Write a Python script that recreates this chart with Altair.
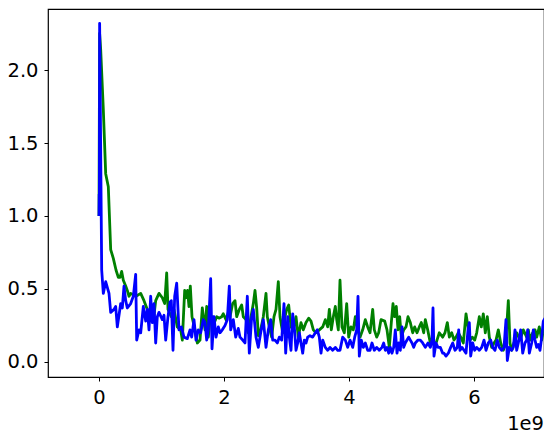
import altair as alt
import pandas as pd

# x values in units of 1e9 (matplotlib offset label "1e9")
green_x = [
    0.000, 0.010, 0.027, 0.069, 0.107, 0.149, 0.187, 0.229, 0.272, 0.309,
    0.336, 0.363, 0.389, 0.427, 0.453, 0.480, 0.507, 0.549, 0.592, 0.667,
    0.720, 0.773, 0.827, 0.880, 0.907, 0.960, 1.013, 1.051, 1.083, 1.104,
    1.157, 1.200, 1.253, 1.307, 1.333, 1.371, 1.392, 1.416, 1.440, 1.461,
    1.488, 1.536, 1.573, 1.616, 1.653, 1.696, 1.723, 1.749, 1.776, 1.819,
    1.856, 1.883, 1.925, 1.963, 1.989, 2.032, 2.069, 2.096, 2.139, 2.176,
    2.203, 2.245, 2.283, 2.309, 2.352, 2.389, 2.416, 2.469, 2.496, 2.523,
    2.549, 2.587, 2.629, 2.672, 2.693, 2.725, 2.763, 2.800, 2.832, 2.869,
    2.896, 2.939, 2.976, 3.003, 3.035, 3.072, 3.109, 3.152, 3.189, 3.232,
    3.269, 3.312, 3.355, 3.392, 3.429, 3.472, 3.525, 3.579, 3.621, 3.659,
    3.685, 3.717, 3.749, 3.781, 3.803, 3.829, 3.856, 3.888, 3.925, 3.963,
    3.995, 4.032, 4.069, 4.101, 4.139, 4.176, 4.219, 4.261, 4.299, 4.336,
    4.379, 4.405, 4.443, 4.475, 4.512, 4.571, 4.608, 4.645, 4.677, 4.704,
    4.731, 4.757, 4.784, 4.811, 4.837, 4.875, 4.912, 4.944, 4.981, 5.019,
    5.051, 5.088, 5.125, 5.157, 5.195, 5.221, 5.259, 5.301, 5.339, 5.371,
    5.408, 5.445, 5.499, 5.536, 5.573, 5.605, 5.643, 5.680, 5.712, 5.749,
    5.787, 5.829, 5.872, 5.904, 5.936, 5.973, 6.011, 6.043, 6.085, 6.117,
    6.149, 6.181, 6.213, 6.245, 6.283, 6.320, 6.352, 6.389, 6.427, 6.469,
    6.501, 6.523, 6.549, 6.576, 6.603, 6.640, 6.683, 6.736, 6.789, 6.843,
    6.869, 6.896, 6.939, 6.976, 7.003, 7.045, 7.083, 7.109, 7.130,
]
green_y = [
    1.00, 2.25, 2.14, 1.73, 1.29, 1.20, 0.77, 0.71, 0.63, 0.58,
    0.58, 0.62, 0.56, 0.52, 0.49, 0.45, 0.47, 0.46, 0.45, 0.47,
    0.42, 0.36, 0.31, 0.32, 0.42, 0.47, 0.44, 0.40, 0.61, 0.36,
    0.31, 0.36, 0.24, 0.22, 0.15, 0.49, 0.44, 0.49, 0.38, 0.52,
    0.31, 0.22, 0.13, 0.15, 0.37, 0.22, 0.38, 0.17, 0.29, 0.31,
    0.28, 0.31, 0.30, 0.31, 0.33, 0.29, 0.34, 0.31, 0.40, 0.42,
    0.31, 0.36, 0.39, 0.31, 0.29, 0.20, 0.27, 0.40, 0.49, 0.37,
    0.18, 0.22, 0.31, 0.47, 0.31, 0.24, 0.17, 0.31, 0.36, 0.55,
    0.31, 0.20, 0.31, 0.36, 0.39, 0.24, 0.22, 0.31, 0.17, 0.27,
    0.22, 0.27, 0.30, 0.28, 0.22, 0.20, 0.22, 0.24, 0.29, 0.24,
    0.36, 0.22, 0.31, 0.38, 0.29, 0.22, 0.56, 0.24, 0.20, 0.40,
    0.17, 0.24, 0.22, 0.31, 0.22, 0.17, 0.22, 0.29, 0.24, 0.20,
    0.36, 0.22, 0.17, 0.20, 0.29, 0.28, 0.22, 0.10, 0.27, 0.40,
    0.31, 0.38, 0.22, 0.31, 0.17, 0.22, 0.24, 0.31, 0.27, 0.20,
    0.24, 0.20, 0.24, 0.27, 0.20, 0.29, 0.22, 0.13, 0.17, 0.10,
    0.15, 0.20, 0.17, 0.20, 0.27, 0.17, 0.20, 0.15, 0.17, 0.20,
    0.17, 0.13, 0.33, 0.24, 0.15, 0.17, 0.15, 0.20, 0.31, 0.24,
    0.33, 0.20, 0.31, 0.17, 0.10, 0.13, 0.15, 0.22, 0.13, 0.08,
    0.13, 0.24, 0.42, 0.13, 0.08, 0.13, 0.20, 0.15, 0.22, 0.17,
    0.22, 0.15, 0.20, 0.22, 0.17, 0.24, 0.15, 0.22, 0.20,
]

blue_x = [
    0.000, 0.003, 0.006, 0.010, 0.043, 0.069, 0.107, 0.160, 0.187, 0.240,
    0.267, 0.293, 0.347, 0.373, 0.400, 0.427, 0.453, 0.507, 0.549, 0.587,
    0.603, 0.640, 0.667, 0.709, 0.747, 0.773, 0.800, 0.827, 0.853, 0.880,
    0.907, 0.933, 0.960, 1.013, 1.040, 1.067, 1.104, 1.136, 1.157, 1.184,
    1.211, 1.243, 1.280, 1.317, 1.360, 1.413, 1.456, 1.483, 1.520, 1.552,
    1.589, 1.627, 1.669, 1.696, 1.723, 1.749, 1.787, 1.808, 1.840, 1.872,
    1.909, 1.936, 1.973, 2.016, 2.053, 2.085, 2.107, 2.149, 2.187, 2.229,
    2.256, 2.299, 2.336, 2.373, 2.405, 2.443, 2.469, 2.512, 2.549, 2.587,
    2.629, 2.672, 2.709, 2.747, 2.779, 2.816, 2.853, 2.885, 2.923, 2.960,
    2.987, 3.019, 3.045, 3.072, 3.099, 3.125, 3.152, 3.179, 3.205, 3.232,
    3.259, 3.285, 3.312, 3.339, 3.376, 3.419, 3.461, 3.493, 3.525, 3.552,
    3.579, 3.621, 3.659, 3.696, 3.739, 3.781, 3.819, 3.856, 3.899, 3.941,
    3.979, 4.016, 4.059, 4.091, 4.123, 4.144, 4.165, 4.197, 4.229, 4.261,
    4.299, 4.336, 4.368, 4.405, 4.443, 4.485, 4.528, 4.555, 4.581, 4.608,
    4.635, 4.661, 4.688, 4.715, 4.741, 4.768, 4.795, 4.821, 4.848, 4.875,
    4.901, 4.928, 4.955, 4.981, 5.008, 5.035, 5.061, 5.104, 5.141, 5.179,
    5.221, 5.264, 5.301, 5.328, 5.344, 5.360, 5.392, 5.424, 5.461, 5.499,
    5.520, 5.552, 5.589, 5.627, 5.659, 5.696, 5.733, 5.755, 5.776, 5.808,
    5.840, 5.872, 5.904, 5.925, 5.947, 5.979, 6.011, 6.043, 6.085, 6.123,
    6.160, 6.192, 6.229, 6.267, 6.299, 6.336, 6.373, 6.405, 6.443, 6.480,
    6.512, 6.533, 6.565, 6.603, 6.629, 6.656, 6.683, 6.709, 6.747, 6.779,
    6.816, 6.843, 6.859, 6.885, 6.923, 6.949, 6.976, 7.003, 7.029, 7.056,
    7.083, 7.109, 7.136,
]
blue_y = [
    1.00, 1.15, 1.02, 2.32, 0.63, 0.47, 0.55, 0.47, 0.34, 0.36,
    0.38, 0.24, 0.40, 0.37, 0.52, 0.42, 0.37, 0.40, 0.45, 0.60,
    0.15, 0.22, 0.20, 0.38, 0.28, 0.36, 0.22, 0.45, 0.27, 0.40,
    0.13, 0.31, 0.34, 0.29, 0.32, 0.15, 0.31, 0.41, 0.42, 0.08,
    0.45, 0.54, 0.22, 0.24, 0.17, 0.16, 0.22, 0.17, 0.29, 0.15,
    0.22, 0.20, 0.29, 0.27, 0.15, 0.22, 0.57, 0.09, 0.31, 0.17,
    0.24, 0.20, 0.22, 0.25, 0.29, 0.52, 0.22, 0.29, 0.17, 0.23,
    0.17, 0.15, 0.13, 0.45, 0.06, 0.31, 0.36, 0.17, 0.10, 0.20,
    0.29, 0.10, 0.22, 0.29, 0.15, 0.15, 0.13, 0.17, 0.15, 0.40,
    0.06, 0.31, 0.17, 0.08, 0.33, 0.24, 0.08, 0.13, 0.20, 0.13,
    0.06, 0.15, 0.13, 0.17, 0.18, 0.17, 0.20, 0.22, 0.17, 0.06,
    0.15, 0.10, 0.08, 0.10, 0.08, 0.10, 0.08, 0.08, 0.17, 0.15,
    0.10, 0.15, 0.10, 0.17, 0.22, 0.45, 0.04, 0.15, 0.10, 0.13,
    0.08, 0.08, 0.13, 0.08, 0.10, 0.08, 0.10, 0.13, 0.08, 0.10,
    0.06, 0.10, 0.06, 0.10, 0.22, 0.06, 0.13, 0.08, 0.24, 0.10,
    0.13, 0.15, 0.17, 0.15, 0.13, 0.10, 0.13, 0.15, 0.15, 0.13,
    0.10, 0.13, 0.10, 0.15, 0.37, 0.04, 0.13, 0.10, 0.10, 0.06,
    0.06, 0.04, 0.06, 0.10, 0.13, 0.08, 0.10, 0.22, 0.08, 0.10,
    0.08, 0.06, 0.22, 0.27, 0.04, 0.13, 0.08, 0.10, 0.08, 0.10,
    0.15, 0.08, 0.13, 0.15, 0.10, 0.08, 0.15, 0.10, 0.08, 0.10,
    0.29, 0.01, 0.10, 0.08, 0.10, 0.22, 0.08, 0.13, 0.22, 0.06,
    0.13, 0.15, 0.22, 0.06, 0.13, 0.22, 0.15, 0.10, 0.12, 0.08,
    0.17, 0.28, 0.30,
]

x_ticks = [0, 2, 4, 6]
y_ticks = [0.0, 0.5, 1.0, 1.5, 2.0]
x_domain = [-0.816, 7.12]
y_domain = [-0.103, 2.418]
offset_label = ["1e9"]

green_df = pd.DataFrame({"step": green_x, "loss": green_y})
blue_df = pd.DataFrame({"step": blue_x, "loss": blue_y})

W, H = 496, 368

x_enc = alt.X(
    "step:Q",
    scale=alt.Scale(domain=x_domain, nice=False, zero=False),
    axis=alt.Axis(values=x_ticks, format="d", title=None, labelPadding=7),
)
y_enc = alt.Y(
    "loss:Q",
    scale=alt.Scale(domain=y_domain, nice=False, zero=False),
    axis=alt.Axis(values=y_ticks, format=".1f", title=None, labelPadding=6),
)

green = alt.Chart(green_df).mark_line(
    color="#008000", strokeWidth=2.8, clip=True, strokeJoin="round"
).encode(x=x_enc, y=y_enc, order="step:Q")

blue = alt.Chart(blue_df).mark_line(
    color="#0000ff", strokeWidth=2.8, clip=True, strokeJoin="round"
).encode(x=x_enc, y=y_enc, order="step:Q")

offset = alt.Chart(pd.DataFrame({"t": offset_label})).mark_text(
    align="right", baseline="alphabetic", fontSize=19.5, font="DejaVu Sans", color="black"
).encode(x=alt.value(W), y=alt.value(H + 53), text="t:N")

chart = (
    alt.layer(green, blue, offset)
    .properties(
        width=W,
        height=H,
        autosize=alt.AutoSizeParams(type="none"),
        padding={"left": 40, "top": 1, "right": 0, "bottom": 58},
    )
    .configure_view(stroke="black", strokeWidth=1.2)
    .configure_axis(
        grid=False,
        domain=False,
        ticks=True,
        tickColor="black",
        tickSize=4,
        tickWidth=1,
        labelFontSize=19.5,
        labelFont="DejaVu Sans",
        labelColor="black",
    )
)

chart.save("out.html", embed_options={"renderer": "svg", "actions": False})
